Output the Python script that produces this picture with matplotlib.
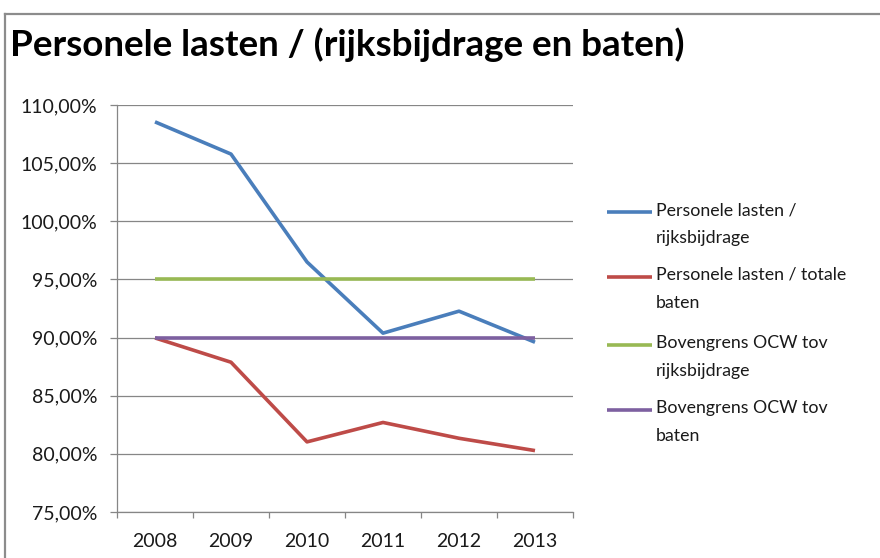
import matplotlib
matplotlib.use("Agg")
import matplotlib.pyplot as plt
from matplotlib.lines import Line2D
from matplotlib.ticker import FuncFormatter, FixedLocator

plt.rcParams['font.family'] = ['Lato', 'DejaVu Sans']

years = ['2008', '2009', '2010', '2011', '2012', '2013']
pl_rijks = [108.55, 105.78, 96.5, 90.38, 92.27, 89.6]
pl_baten = [89.97, 87.88, 81.03, 82.7, 81.34, 80.28]
grens_rijks = [95.0, 95.0, 95.0, 95.0, 95.0, 95.0]
grens_baten = [90.0, 90.0, 90.0, 90.0, 90.0, 90.0]

series = [
    ("Personele lasten /\nrijksbijdrage", pl_rijks, '#4A7EBB'),
    ("Personele lasten / totale\nbaten", pl_baten, '#BE4B48'),
    ("Bovengrens OCW tov\nrijksbijdrage", grens_rijks, '#98B954'),
    ("Bovengrens OCW tov\nbaten", grens_baten, '#7D60A0'),
]

W, H = 880, 558
fig = plt.figure(figsize=(W / 100, H / 100), dpi=100)

def fx(px):
    return px / W

def fy(py):
    return 1 - py / H

ax = fig.add_axes([fx(117), fy(512), fx(573) - fx(117), fy(105) - fy(512)])

x = list(range(len(years)))
for label, vals, col in series:
    ax.plot(x, vals, color=col, lw=2.6, solid_capstyle='butt', solid_joinstyle='round', zorder=3)

ax.set_ylim(75, 110)
ax.set_xlim(-0.5, len(years) - 0.5)
ax.set_yticks([75, 80, 85, 90, 95, 100, 105, 110])
ax.yaxis.set_major_formatter(FuncFormatter(lambda v, p: f"{v:.2f}%".replace('.', ',')))
ax.grid(axis='y', color='#868686', lw=0.9, zorder=1)
ax.set_axisbelow(True)

ax.xaxis.set_major_locator(FixedLocator([i - 0.5 for i in range(len(years) + 1)]))
ax.xaxis.set_major_formatter(FuncFormatter(lambda v, p: ''))
ax.xaxis.set_minor_locator(FixedLocator(x))
ax.set_xticklabels(years, minor=True)
ax.tick_params(axis='x', which='major', length=4.5, color='#868686', width=0.9, direction='out')
ax.tick_params(axis='x', which='minor', length=0, pad=15, labelsize=14, labelcolor='#1a1a1a')
ax.tick_params(axis='y', length=5, color='#868686', width=0.9, direction='out', pad=9,
               labelsize=14, labelcolor='#1a1a1a')

for s in ['top', 'right']:
    ax.spines[s].set_visible(False)
for s in ['left', 'bottom']:
    ax.spines[s].set_color('#868686')
    ax.spines[s].set_linewidth(0.9)

# title
fig.text(fx(10), fy(45), "Personele lasten / (rijksbijdrage en baten)", fontsize=26.5,
         fontweight='bold', ha='left', va='center', color='black')

# legend (manual)
ly = [212, 277, 345, 410]
for (label, vals, col), yy in zip(series, ly):
    fig.add_artist(Line2D([fx(607), fx(652)], [fy(yy), fy(yy)], color=col, lw=2.6,
                          solid_capstyle='butt'))
    fig.text(fx(656), fy(yy - 10), label, fontsize=12.8, ha='left', va='top',
             color='#1a1a1a', linespacing=1.9)

# outer frame
fig.add_artist(Line2D([fx(5), fx(880)], [fy(14), fy(14)], color='#8c8c8c', lw=1.6))
fig.add_artist(Line2D([fx(5), fx(5)], [fy(14), fy(558)], color='#8c8c8c', lw=1.6))

fig.savefig('out.png', dpi=100)
